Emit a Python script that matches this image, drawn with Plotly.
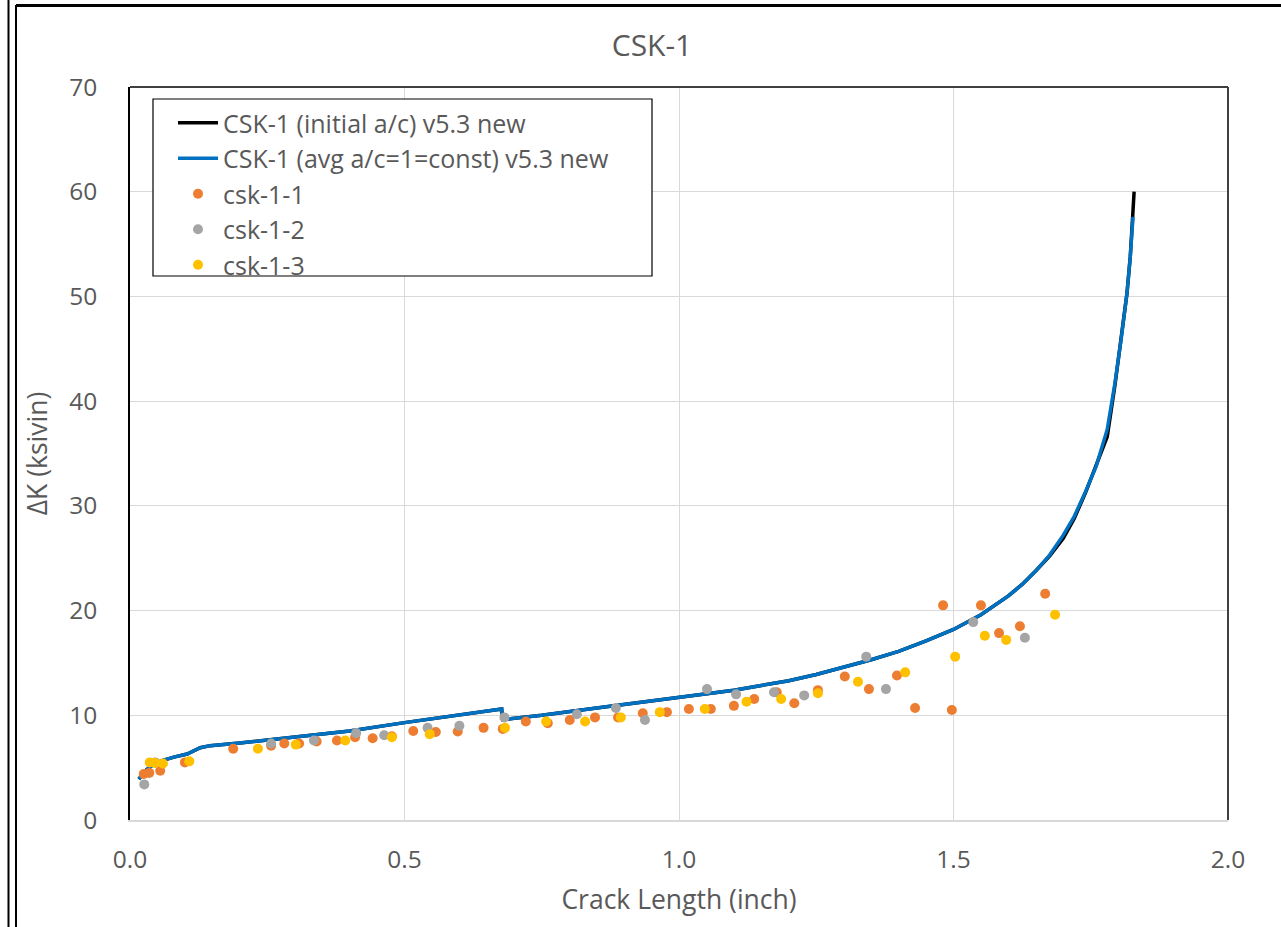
import plotly.graph_objects as go

# Model curves
curve_avg_x = [0.016, 0.03, 0.045, 0.06, 0.08, 0.104, 0.128, 0.146, 0.2, 0.3, 0.4, 0.5, 0.6, 0.677, 0.679,
               0.75, 0.85, 0.95, 1.05, 1.1, 1.15, 1.2, 1.25, 1.3, 1.35, 1.4, 1.45, 1.5, 1.55, 1.6, 1.625,
               1.65, 1.675, 1.7, 1.72, 1.74, 1.76, 1.78, 1.794, 1.805, 1.816, 1.822, 1.827]
curve_avg_y = [3.9, 4.8, 5.4, 5.7, 6.0, 6.3, 6.9, 7.1, 7.35, 7.9, 8.5, 9.3, 10.0, 10.6, 9.6,
               10.0, 10.7, 11.35, 12.05, 12.4, 12.85, 13.3, 13.9, 14.6, 15.3, 16.1, 17.1, 18.2, 19.6, 21.4, 22.5,
               23.8, 25.3, 27.2, 29.0, 31.3, 33.8, 37.3, 41.7, 45.8, 50.3, 53.8, 57.6]

curve_init_x = [0.016, 0.03, 0.045, 0.06, 0.08, 0.104, 0.128, 0.146, 0.2, 0.3, 0.4, 0.5, 0.6, 0.677, 0.679,
                0.75, 0.85, 0.95, 1.05, 1.1, 1.15, 1.2, 1.25, 1.3, 1.35, 1.4, 1.45, 1.5, 1.55, 1.6, 1.625,
                1.65, 1.675, 1.7, 1.72, 1.74, 1.76, 1.78, 1.794, 1.805, 1.816, 1.822, 1.827, 1.829]
curve_init_y = [3.9, 4.8, 5.4, 5.7, 6.0, 6.3, 6.9, 7.1, 7.35, 7.9, 8.5, 9.3, 10.0, 10.6, 9.6,
                10.0, 10.7, 11.35, 12.05, 12.4, 12.85, 13.3, 13.9, 14.6, 15.3, 16.1, 17.1, 18.2, 19.6, 21.4, 22.5,
                23.8, 25.2, 26.9, 28.8, 31.2, 33.9, 36.6, 41.5, 45.8, 50.3, 53.8, 57.6, 60.0]

# Test data
csk1_x = [0.025, 0.035, 0.055, 0.100, 0.188, 0.257, 0.281, 0.308, 0.340, 0.377, 0.410, 0.442, 0.477, 0.516,
          0.557, 0.597, 0.644, 0.679, 0.721, 0.761, 0.801, 0.847, 0.889, 0.934, 0.978, 1.018, 1.058, 1.100,
          1.137, 1.178, 1.210, 1.253, 1.302, 1.346, 1.397, 1.430, 1.481, 1.497, 1.550, 1.583, 1.621, 1.667]
csk1_y = [4.4, 4.5, 4.7, 5.5, 6.8, 7.1, 7.3, 7.3, 7.5, 7.6, 7.9, 7.8, 8.0, 8.5,
          8.4, 8.45, 8.8, 8.7, 9.4, 9.25, 9.55, 9.8, 9.8, 10.2, 10.3, 10.6, 10.6, 10.9,
          11.55, 12.2, 11.15, 12.4, 13.7, 12.5, 13.8, 10.7, 20.5, 10.5, 20.5, 17.85, 18.5, 21.6]

csk2_x = [0.026, 0.046, 0.257, 0.335, 0.412, 0.463, 0.542, 0.600, 0.682, 0.814, 0.885, 0.938, 1.051,
          1.104, 1.173, 1.228, 1.341, 1.377, 1.536, 1.630]
csk2_y = [3.4, 5.5, 7.3, 7.6, 8.3, 8.1, 8.8, 9.0, 9.8, 10.1, 10.7, 9.55, 12.5,
          12.0, 12.2, 11.9, 15.6, 12.5, 18.9, 17.4]

csk3_x = [0.036, 0.046, 0.060, 0.108, 0.233, 0.302, 0.392, 0.477, 0.546, 0.683, 0.758, 0.829, 0.894,
          0.965, 1.047, 1.123, 1.186, 1.253, 1.326, 1.412, 1.503, 1.557, 1.596, 1.685]
csk3_y = [5.5, 5.45, 5.4, 5.6, 6.8, 7.2, 7.6, 7.9, 8.2, 8.8, 9.4, 9.4, 9.8,
          10.3, 10.6, 11.3, 11.55, 12.1, 13.2, 14.1, 15.6, 17.6, 17.2, 19.6]

x_ticks = [0.0, 0.5, 1.0, 1.5, 2.0]
x_tick_text = ["0.0", "0.5", "1.0", "1.5", "2.0"]
y_ticks = [0, 10, 20, 30, 40, 50, 60, 70]

FONT = "Open Sans"
TXT = "#595959"

fig = go.Figure()
fig.add_trace(go.Scatter(x=curve_init_x, y=curve_init_y, mode="lines", name="CSK-1 (initial a/c) v5.3 new",
                         line=dict(color="#000000", width=3.5), legendgroup="a"))
fig.add_trace(go.Scatter(x=curve_avg_x, y=curve_avg_y, mode="lines", name="CSK-1 (avg a/c=1=const) v5.3 new",
                         line=dict(color="#0070C0", width=3.5), legendgroup="b"))
fig.add_trace(go.Scatter(x=csk1_x, y=csk1_y, mode="markers", name="csk-1-1",
                         marker=dict(color="#ED7D31", size=10), legendgroup="c"))
fig.add_trace(go.Scatter(x=csk2_x, y=csk2_y, mode="markers", name="csk-1-2",
                         marker=dict(color="#A5A5A5", size=10), legendgroup="d"))
fig.add_trace(go.Scatter(x=csk3_x, y=csk3_y, mode="markers", name="csk-1-3",
                         marker=dict(color="#FFC000", size=10), legendgroup="e"))

L, R, T, B = 130, 53, 87, 107
W, H = 1281, 927
pw, ph = W - L - R, H - T - B

def px2x(px):
    return (px - L) / pw

def py2y(py):
    return (H - B - py) / ph

fig.update_layout(
    width=W, height=H,
    margin=dict(l=L, r=R, t=T, b=B, autoexpand=False),
    paper_bgcolor="white", plot_bgcolor="white",
    font=dict(family=FONT, color=TXT, size=24),
    title=dict(text="CSK-1", x=652 / W, xref="container", xanchor="center",
               y=1 - 45 / H, yref="container", yanchor="middle",
               font=dict(size=30, color=TXT, family=FONT)),
    showlegend=True,
    legend=dict(x=px2x(173), y=py2y(100), xanchor="left", yanchor="top",
                borderwidth=0, bgcolor="rgba(0,0,0,0)",
                font=dict(size=25, color=TXT, family=FONT),
                tracegroupgap=0, itemwidth=40),
    xaxis=dict(range=[0, 2.0], tickvals=x_ticks, ticktext=x_tick_text,
               showgrid=True, gridcolor="#D9D9D9", gridwidth=1, zeroline=False,
               showline=True, linecolor="#D9D9D9", linewidth=1.5,
               ticks="outside", ticklen=17, tickcolor="rgba(0,0,0,0)",
               tickfont=dict(size=24.5, color=TXT, family=FONT),
               title=dict(text="Crack Length (inch)", font=dict(size=26.5, color=TXT, family=FONT), standoff=16)),
    yaxis=dict(range=[0, 70], tickvals=y_ticks,
               showgrid=True, gridcolor="#D9D9D9", gridwidth=1, zeroline=False,
               showline=True, linecolor="#000000", linewidth=1.5,
               ticks="outside", ticklen=26, tickcolor="rgba(0,0,0,0)",
               tickfont=dict(size=24.5, color=TXT, family=FONT),
               title=dict(text="ΔK (ksivin)", font=dict(size=26.5, color=TXT, family=FONT), standoff=14)),
)

# Legend box (opaque, drawn beneath the legend entries)
fig.add_shape(type="rect", xref="paper", yref="paper", layer="above",
              x0=px2x(153), x1=px2x(652), y0=py2y(276), y1=py2y(99),
              fillcolor="white", line=dict(color="#000000", width=1.2))

# Plot area top and right borders
fig.add_shape(type="line", xref="paper", yref="paper", x0=0, x1=1, y0=1, y1=1,
              line=dict(color="#404040", width=2))
fig.add_shape(type="line", xref="paper", yref="paper", x0=1, x1=1, y0=0, y1=1,
              line=dict(color="#404040", width=2))

# Outer frame lines
fig.add_shape(type="line", xref="paper", yref="paper", x0=px2x(8.5), x1=px2x(8.5), y0=py2y(0), y1=py2y(H),
              line=dict(color="#000000", width=2))
fig.add_shape(type="line", xref="paper", yref="paper", x0=px2x(16), x1=px2x(16), y0=py2y(5), y1=py2y(H),
              line=dict(color="#000000", width=2))
fig.add_shape(type="line", xref="paper", yref="paper", x0=px2x(16), x1=px2x(W), y0=py2y(5.5), y1=py2y(5.5),
              line=dict(color="#000000", width=3))

fig.write_html("out.html")
